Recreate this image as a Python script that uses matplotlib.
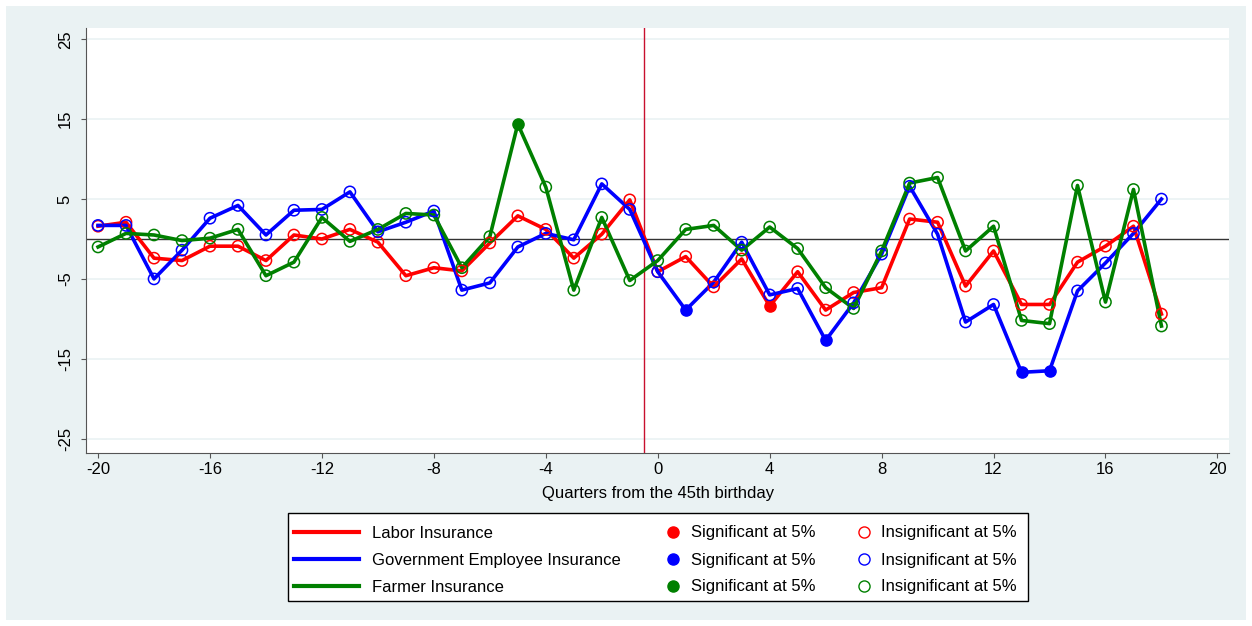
import matplotlib.pyplot as plt
import matplotlib.patches as mpatches
from matplotlib.lines import Line2D

plt.rcParams['font.family'] = ['Liberation Sans', 'DejaVu Sans']
plt.rcParams['axes.unicode_minus'] = False

quarters = list(range(-20, 19))

labor = [1.6, 2.1, -2.4, -2.7, -0.9, -0.9, -2.7, 0.5, 0.0, 1.2, -0.4, -4.6, -3.6, -4.0, -0.5, 2.9, 1.2, -2.4, 0.6, 4.9,
         -4.1, -2.2, -6.0, -2.5, -8.4, -4.1, -8.9, -6.7, -6.1, 2.5, 2.1, -5.9, -1.5, -8.2, -8.2, -2.9, -0.9, 1.6, -9.4]
gov = [1.7, 1.7, -5.0, -1.4, 2.6, 4.2, 0.5, 3.6, 3.7, 5.9, 0.9, 2.1, 3.5, -6.4, -5.5, -1.0, 0.7, -0.1, 6.9, 3.7,
       -4.1, -8.9, -5.4, -0.4, -7.0, -6.2, -12.7, -8.0, -1.9, 6.6, 0.6, -10.4, -8.2, -16.7, -16.5, -6.5, -3.0, 0.7, 5.0]
farmer = [-1.0, 0.7, 0.5, -0.2, 0.1, 1.2, -4.6, -2.9, 2.7, -0.3, 1.2, 3.2, 3.0, -3.6, 0.3, 14.4, 6.5, -6.4, 2.7, -5.2,
          -2.7, 1.2, 1.7, -1.4, 1.5, -1.2, -6.1, -8.7, -1.5, 7.0, 7.7, -1.5, 1.6, -10.2, -10.6, 6.7, -7.9, 6.2, -10.9]

labor_sig = [4]
gov_sig = [1, 6, 13, 14]
farmer_sig = [-5]

series = [
    ("Labor Insurance", labor, labor_sig, "#ff0000"),
    ("Government Employee Insurance", gov, gov_sig, "#0000ff"),
    ("Farmer Insurance", farmer, farmer_sig, "#008000"),
]

W, H = 1252, 626
bg = "#eaf2f3"
fig = plt.figure(figsize=(12.52, 6.26), dpi=100, facecolor="white")
fig.patches.append(mpatches.Rectangle((6 / W, 6 / H), 1240 / W, 614 / H,
                                      transform=fig.transFigure, facecolor=bg, edgecolor="none", zorder=-1))
ax = fig.add_axes([0.0687, 0.277, 0.9133, 0.678])
ax.set_facecolor("white")

for y in [-25, -15, -5, 5, 15, 25]:
    ax.axhline(y, color="#eaf2f3", lw=1.2, zorder=0)
ax.axhline(0, color="#333333", lw=1, zorder=1)
ax.axvline(-0.5, color="#c8102e", lw=1, zorder=1)

for name, vals, sig, col in series:
    ax.plot(quarters, vals, color=col, lw=2.6, zorder=2)
    for q, v in zip(quarters, vals):
        if q in sig:
            ax.scatter(q, v, s=65, color=col, zorder=3)
        else:
            ax.scatter(q, v, s=65, facecolors="none", edgecolors=col, linewidths=1.1, zorder=3)

ax.set_xlim(-20.43, 20.43)
ax.set_ylim(-26.75, 26.4)
ax.set_xticks(range(-20, 21, 4))
ax.set_yticks([-25, -15, -5, 5, 15, 25])
ax.tick_params(axis="y", labelrotation=90, pad=6)
for lab in ax.get_yticklabels():
    lab.set_va("center")
ax.tick_params(labelsize=12, color="#555555")
ax.set_xlabel("Quarters from the 45th birthday", fontsize=12, labelpad=6)
for s in ["top", "right"]:
    ax.spines[s].set_visible(False)
for s in ["left", "bottom"]:
    ax.spines[s].set_color("#555555")

# legend: white frame with three borderless columns inside
fig.patches.append(mpatches.Rectangle((288 / W, 1 - 601 / H), 740 / W, 88 / H,
                                      transform=fig.transFigure, facecolor="white",
                                      edgecolor="black", lw=1, zorder=5))
line_h = [Line2D([], [], color=c, lw=3) for _, _, _, c in series]
sig_h = [Line2D([], [], color=c, marker="o", ls="none", markersize=8) for _, _, _, c in series]
ins_h = [Line2D([], [], color=c, marker="o", ls="none", markersize=8, markerfacecolor="none")
         for _, _, _, c in series]
cols = [
    (line_h, [s[0] for s in series], 294, 3.9, 0.8),
    (sig_h, ["Significant at 5%"] * 3, 663, 1.2, 0.5),
    (ins_h, ["Insignificant at 5%"] * 3, 854, 1.2, 0.4),
]
for hs, labs, x0, hl, tp in cols:
    lg = fig.legend(hs, labs, loc="center left", bbox_to_anchor=(x0 / W, 1 - 560 / H),
                    fontsize=12, frameon=False, handlelength=hl, handletextpad=tp,
                    labelspacing=0.72, borderpad=0, borderaxespad=0)
    lg.set_zorder(6)

fig.savefig("out.png", dpi=100, facecolor="white")
